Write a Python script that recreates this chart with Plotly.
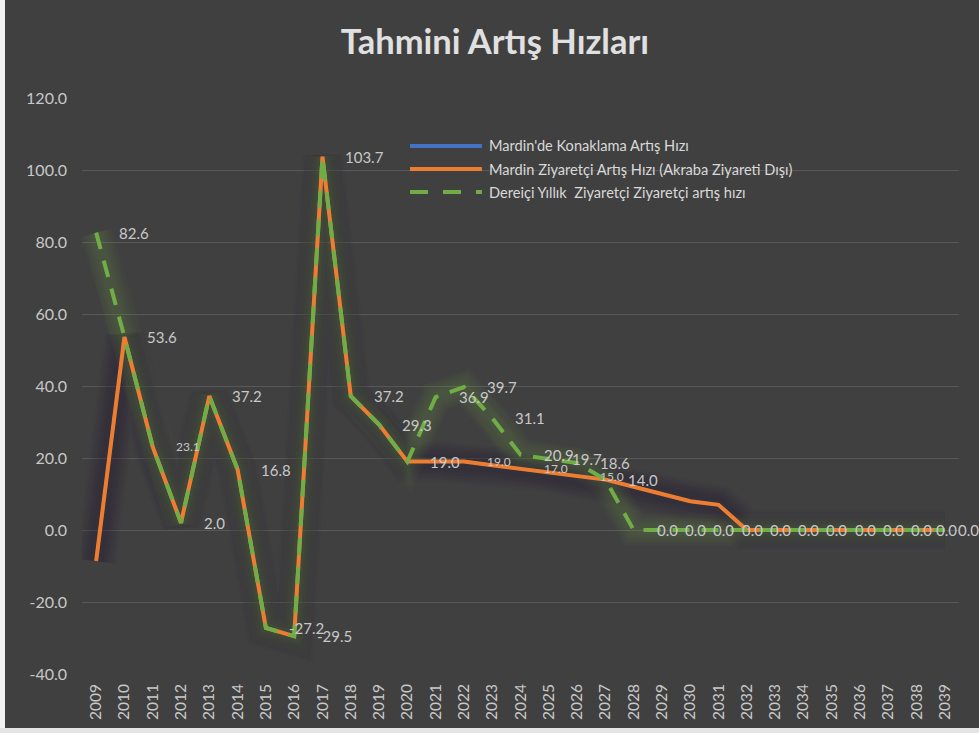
import plotly.graph_objects as go

# Years on the category axis
years = [str(y) for y in range(2009, 2040)]

# Mardin'de Konaklama Artış Hızı
konaklama = [-8.6, 53.6, 23.1, 2.0, 37.2, 16.8, -27.2, -29.5, 103.7, 37.2, 29.3,
             19.0, 19.0, 19.0, 18.0, 17.0, 16.0, 15.0, 14.0, 12.0, 10.0, 8.0, 7.0,
             0.0, 0.0, 0.0, 0.0, 0.0, 0.0, 0.0, 0.0]

# Mardin Ziyaretçi Artış Hızı (Akraba Ziyareti Dışı)
ziyaretci = [-8.6, 53.6, 23.1, 2.0, 37.2, 16.8, -27.2, -29.5, 103.7, 37.2, 29.3,
             19.0, 19.0, 19.0, 18.0, 17.0, 16.0, 15.0, 14.0, 12.0, 10.0, 8.0, 7.0,
             0.0, 0.0, 0.0, 0.0, 0.0, 0.0, 0.0, 0.0]

# Dereiçi Yıllık Ziyaretçi artış hızı
dereici = [82.6, 53.6, 23.1, 2.0, 37.2, 16.8, -27.2, -29.5, 103.7, 37.2, 29.3,
           19.0, 36.9, 39.7, 31.1, 20.9, 19.7, 18.6, 14.0, 0.0, 0.0, 0.0, 0.0,
           0.0, 0.0, 0.0, 0.0, 0.0, 0.0, 0.0, 0.0]

series_names = [
    "Mardin'de Konaklama Artış Hızı",
    "Mardin Ziyaretçi Artış Hızı (Akraba Ziyareti Dışı)",
    "Dereiçi Yıllık  Ziyaretçi Ziyaretçi artış hızı",
]

# Which points carry a value label (large: Dereiçi, small: Mardin Ziyaretçi)
dereici_labelled = [i for i in range(len(years)) if i != 2]
ziyaretci_labelled = [2, 13, 15, 17]

y_ticks = [-40, -20, 0, 20, 40, 60, 80, 100, 120]

BG = "#404040"
BLUE = "#4472C4"
ORANGE = "#ED7D31"
GREEN = "#70AD47"
TEXT = "#c8c8c8"
FONT = "Lato"

idx = list(range(len(years)))
last = len(years) - 1

fig = go.Figure()

# soft dark halo behind the Mardin lines
for w in [40, 35, 30, 25, 20, 15]:
    fig.add_trace(go.Scatter(x=idx, y=ziyaretci, mode="lines", hoverinfo="skip",
                             line=dict(color="rgba(44,28,48,0.075)", width=w),
                             showlegend=False))
# green glow around the Dereiçi line
for w in [32, 27, 22, 18, 14, 10]:
    fig.add_trace(go.Scatter(x=idx, y=dereici, mode="lines", hoverinfo="skip",
                             line=dict(color="rgba(112,173,71,0.045)", width=w),
                             showlegend=False))

fig.add_trace(go.Scatter(x=idx, y=konaklama, mode="lines", name=series_names[0],
                         line=dict(color=BLUE, width=3), showlegend=False))
fig.add_trace(go.Scatter(x=idx, y=ziyaretci, mode="lines", name=series_names[1],
                         line=dict(color=ORANGE, width=4), showlegend=False))
fig.add_trace(go.Scatter(x=idx, y=dereici, mode="lines", name=series_names[2],
                         line=dict(color=GREEN, width=4, dash="17px,12px"),
                         showlegend=False))

annotations = []
for i in dereici_labelled:
    # the last two labels are pulled in so they stay inside the chart edge
    shift = {last: 11, last - 1: 17}.get(i, 21)
    annotations.append(dict(x=i, y=dereici[i], xref="x", yref="y",
                            text=f"{dereici[i]:.1f}", showarrow=False,
                            xanchor="left", yanchor="middle", xshift=shift,
                            font=dict(family=FONT, size=15, color=TEXT)))
for i in ziyaretci_labelled:
    annotations.append(dict(x=i, y=ziyaretci[i], xref="x", yref="y",
                            text=f"{ziyaretci[i]:.1f}", showarrow=False,
                            xanchor="left", yanchor="middle", xshift=21,
                            font=dict(family=FONT, size=12, color=TEXT)))

# legend drawn as line samples with labels
legend_rows = [0.9167, 0.8767, 0.8368]
legend_styles = [dict(color=BLUE, width=4), dict(color=ORANGE, width=4),
                 dict(color=GREEN, width=4, dash="18px,15px")]
shapes = []
for yrow, style, name in zip(legend_rows, legend_styles, series_names):
    shapes.append(dict(type="line", xref="paper", yref="paper",
                       x0=0.374, x1=0.456, y0=yrow, y1=yrow, line=style))
    annotations.append(dict(x=0.4618, y=yrow, xref="paper", yref="paper",
                            text=name, showarrow=False, xanchor="left",
                            yanchor="middle",
                            font=dict(family=FONT, size=14.6, color="#d9d9d9")))

# light outer frame strips
shapes.append(dict(type="rect", xref="paper", yref="paper", x0=-0.1, x1=-0.0878,
                   y0=-0.2, y1=1.2, fillcolor="#f2f2f2", line=dict(width=0),
                   layer="above"))
shapes.append(dict(type="rect", xref="paper", yref="paper", x0=-0.1, x1=1.1,
                   y0=-0.2, y1=-0.09375, fillcolor="#e4e4e4", line=dict(width=0),
                   layer="above"))

fig.update_layout(
    width=979, height=733,
    margin=dict(l=82, r=20, t=98, b=59),
    paper_bgcolor=BG, plot_bgcolor=BG,
    title=dict(text="<b>Tahmini Artış Hızları</b>", x=0.5056, xanchor="center",
               y=0.943, yanchor="middle", yref="container",
               font=dict(family=FONT, size=34.5, color="#e0e0e0")),
    xaxis=dict(tickmode="array", tickvals=idx, ticktext=years,
               range=[-0.5, len(years) - 0.5], showgrid=False, zeroline=False,
               showline=False, ticks="", tickangle=-90,
               tickfont=dict(family=FONT, size=15.5, color=TEXT),
               ticklabelstandoff=6),
    yaxis=dict(range=[-40, 120], tickvals=y_ticks,
               ticktext=[f"{v:.1f}" for v in y_ticks],
               showgrid=True, gridcolor="#585858", gridwidth=1.3,
               zeroline=True, zerolinecolor="#585858", zerolinewidth=1.3,
               showline=False, ticks="",
               tickfont=dict(family=FONT, size=16, color=TEXT),
               ticklabelstandoff=14),
    annotations=annotations,
    shapes=shapes,
    showlegend=False,
)

fig.write_html("out.html")
